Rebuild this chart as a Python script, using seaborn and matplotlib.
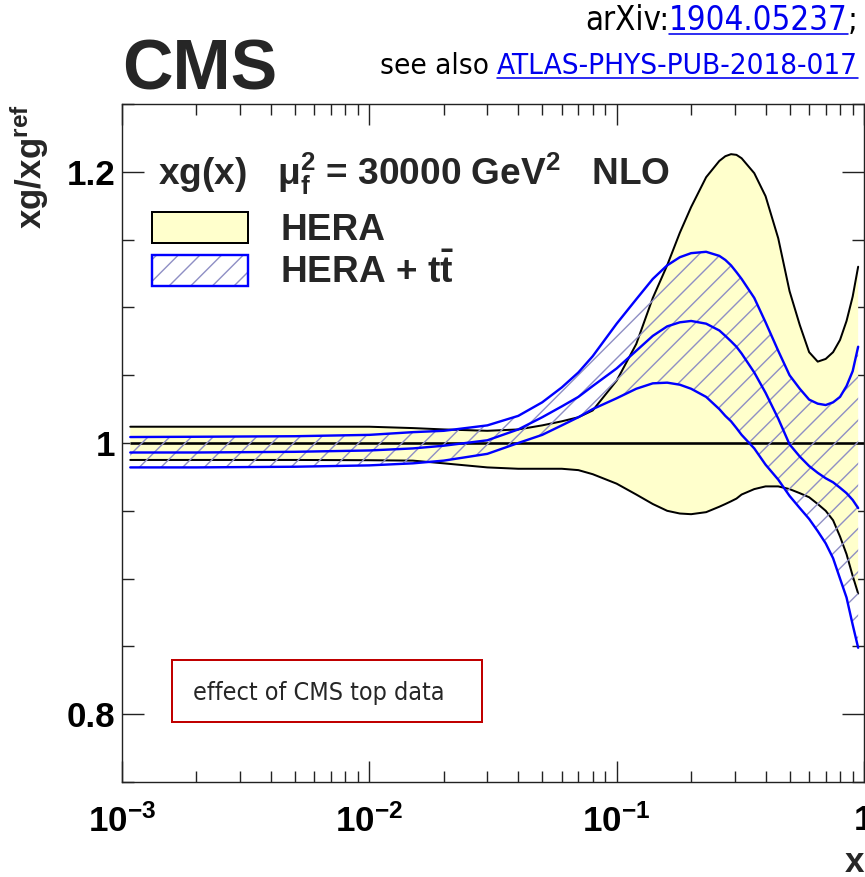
import numpy as np
import pandas as pd
import matplotlib
matplotlib.use("Agg")
import matplotlib.pyplot as plt
import seaborn as sns
from matplotlib import font_manager as fm
from matplotlib.patches import Patch, Rectangle
from matplotlib.lines import Line2D
from matplotlib.ticker import FixedLocator, FixedFormatter, MultipleLocator, LogLocator, NullFormatter
from matplotlib.legend_handler import HandlerTuple

# ---------------- data ----------------
x_vals = [0.00108, 0.002, 0.005, 0.01, 0.015, 0.02, 0.03, 0.04, 0.05, 0.06, 0.07, 0.08,
          0.1, 0.12, 0.14, 0.16, 0.18, 0.2, 0.23, 0.26, 0.275, 0.29, 0.305, 0.32, 0.36, 0.4, 0.45,
          0.5, 0.55, 0.6, 0.65, 0.7, 0.75, 0.8, 0.85, 0.9, 0.947]
hera_up = [1.012, 1.012, 1.012, 1.012, 1.011, 1.010, 1.009, 1.010, 1.013, 1.016, 1.019, 1.024,
           1.046, 1.073, 1.107, 1.131, 1.155, 1.174, 1.196, 1.208, 1.2115, 1.213, 1.2125, 1.210,
           1.199, 1.182, 1.151,
           1.112, 1.087, 1.067, 1.060, 1.062, 1.067, 1.076, 1.090, 1.108, 1.130]
hera_dn = [0.9875, 0.9875, 0.9875, 0.9873, 0.987, 0.985, 0.982, 0.981, 0.981, 0.981, 0.980, 0.977,
           0.970, 0.962, 0.955, 0.950, 0.948, 0.9475, 0.949, 0.953, 0.955, 0.957, 0.959, 0.962,
           0.966, 0.968, 0.968,
           0.966, 0.963, 0.960, 0.955, 0.950, 0.943, 0.931, 0.918, 0.902, 0.889]
tt_up = [1.0044, 1.0046, 1.005, 1.006, 1.008, 1.009, 1.013, 1.020, 1.030, 1.041, 1.052, 1.064,
         1.088, 1.106, 1.121, 1.131, 1.137, 1.140, 1.141, 1.138, 1.135, 1.131, 1.126, 1.121,
         1.107, 1.089, 1.068,
         1.050, 1.040, 1.032, 1.029, 1.028, 1.030, 1.034, 1.042, 1.053, 1.071]
tt_mid = [0.993, 0.993, 0.9935, 0.9945, 0.996, 0.998, 1.002, 1.010, 1.019, 1.027, 1.034, 1.042,
          1.055, 1.068, 1.079, 1.086, 1.089, 1.090, 1.088, 1.083, 1.079, 1.075, 1.071, 1.066,
          1.052, 1.037, 1.018,
          0.999, 0.990, 0.983, 0.978, 0.974, 0.971, 0.967, 0.963, 0.958, 0.952]
tt_dn = [0.982, 0.982, 0.9825, 0.9835, 0.985, 0.987, 0.992, 1.000, 1.006, 1.013, 1.019, 1.025,
         1.033, 1.040, 1.044, 1.0445, 1.043, 1.040, 1.034, 1.025, 1.020, 1.016, 1.011, 1.006,
         0.996, 0.984, 0.973,
         0.961, 0.952, 0.944, 0.935, 0.926, 0.915, 0.900, 0.886, 0.866, 0.849]
ref_value = 1.0

ytick_values = [0.8, 1.0, 1.2]
ytick_labels = ["0.8", "1", "1.2"]
xtick_values = [1e-3, 1e-2, 1e-1, 1.0]
xtick_labels = [r"$\mathbf{10^{-3}}$", r"$\mathbf{10^{-2}}$", r"$\mathbf{10^{-1}}$", "1"]
legend_labels = ["HERA", r"HERA + t$\mathbf{\bar{t}}$"]
header_text = r"xg(x)   $\mathrm{\mu}_{\mathbf{f}}^{\mathbf{2}}$ = 30000 GeV$^{\mathbf{2}}$   NLO"
ylabel_text = r"xg/xg$^{\mathbf{ref}}$"
xlabel_text = "x"
note_text = "effect of CMS top data"
experiment = "CMS"
ref_line1 = [("arXiv:", "black", False), ("1904.05237", "#0000ee", True), (";", "black", False)]
ref_line2 = [("see also ", "black", False), ("ATLAS-PHYS-PUB-2018-017", "#0000ee", True)]

# ---------------- style ----------------
DPI = 130
W, H = 865, 877
P = 72.0 / DPI  # px -> pt

sns.set_theme(style="ticks")


def find_narrow():
    prefs = ["Liberation Sans Narrow", "DejaVu Sans Condensed"]
    for name in prefs:
        try:
            return fm.FontProperties(fname=fm.findfont(fm.FontProperties(family=name),
                                                       fallback_to_default=False))
        except Exception:
            pass
    for f in fm.fontManager.ttflist:
        base = f.fname.split("/")[-1]
        if (("Narrow" in base or "Condensed" in base) and "Bold" not in base
                and "Oblique" not in base and "Italic" not in base and "Sans" in base):
            return fm.FontProperties(fname=f.fname)
    return fm.FontProperties(family="Liberation Sans", weight="normal")


NARROW = find_narrow()

plt.rcParams["font.family"] = ["Liberation Sans", "DejaVu Sans"]
plt.rcParams["font.weight"] = "bold"
plt.rcParams["mathtext.fontset"] = "custom"
plt.rcParams["mathtext.rm"] = "Liberation Sans"
plt.rcParams["mathtext.it"] = "Liberation Sans:italic"
plt.rcParams["mathtext.bf"] = "Liberation Sans:bold"
plt.rcParams["mathtext.sf"] = "Liberation Sans"
plt.rcParams["hatch.linewidth"] = 1.4 * P

YELLOW = "#ffffcc"
HATCH = "#8f8fc4"
BLUE = "#0000ff"
AXC = "#222222"
FS = 37  # px, header / legend

fig = plt.figure(figsize=(W / DPI, H / DPI), dpi=DPI)
fig.patch.set_facecolor("white")
ax = fig.add_axes([122 / W, 1 - 782 / H, (864 - 122) / W, (782 - 104) / H])
ax.set_facecolor("white")

df = pd.DataFrame({"x": x_vals, "hera_up": hera_up, "hera_dn": hera_dn,
                   "tt_up": tt_up, "tt_mid": tt_mid, "tt_dn": tt_dn})

# HERA band
ax.fill_between(df["x"], df["hera_dn"], df["hera_up"], facecolor=YELLOW, edgecolor="none", zorder=1)
for col in ["hera_up", "hera_dn"]:
    sns.lineplot(data=df, x="x", y=col, ax=ax, color="black", linewidth=2.0 * P,
                 estimator=None, sort=False, legend=False, zorder=2)
ax.hlines(ref_value, x_vals[0], xtick_values[-1], color="black", linewidth=2.6 * P, zorder=2)

# HERA + ttbar band
ax.fill_between(df["x"], df["tt_dn"], df["tt_up"], facecolor="none", edgecolor=HATCH,
                linewidth=0, hatch="//", zorder=3)
for col in ["tt_up", "tt_mid", "tt_dn"]:
    sns.lineplot(data=df, x="x", y=col, ax=ax, color=BLUE, linewidth=2.4 * P,
                 estimator=None, sort=False, legend=False, zorder=4)

# axes
ax.set_xscale("log")
ax.set_xlim(1e-3, 1.0)
ax.set_ylim(0.75, 1.25)
ax.xaxis.set_major_locator(FixedLocator(xtick_values))
ax.xaxis.set_major_formatter(FixedFormatter(xtick_labels))
ax.xaxis.set_minor_locator(LogLocator(base=10, subs=np.arange(2, 10), numticks=20))
ax.xaxis.set_minor_formatter(NullFormatter())
ax.yaxis.set_major_locator(FixedLocator(ytick_values))
ax.yaxis.set_major_formatter(FixedFormatter(ytick_labels))
ax.yaxis.set_minor_locator(MultipleLocator(0.05))

for s in ax.spines.values():
    s.set_visible(True)
    s.set_color(AXC)
    s.set_linewidth(1.4 * P)

ax.tick_params(axis="both", which="both", direction="in", top=True, bottom=True,
               left=True, right=True, color=AXC, width=1.4 * P, labelcolor="black")
ax.tick_params(axis="y", which="major", length=22 * P, pad=7 * P, labelsize=35 * P)
ax.tick_params(axis="y", which="minor", length=12 * P)
ax.tick_params(axis="x", which="major", length=21 * P, pad=22 * P, labelsize=35 * P)
ax.tick_params(axis="x", which="minor", length=11 * P)
for lab in ax.get_xticklabels() + ax.get_yticklabels():
    lab.set_fontweight("bold")

ax.set_xlabel(xlabel_text, fontsize=35 * P, fontweight="bold", ha="right", va="top")
ax.xaxis.set_label_coords(1.0, -0.094)
ax.set_ylabel(ylabel_text, fontsize=35 * P, fontweight="bold", loc="top")
ax.yaxis.set_label_coords(-0.096, 1.0)

# header + legend
ax.text(0.0486, 0.8805, header_text, transform=ax.transAxes, ha="left", va="baseline",
        fontsize=FS * P, fontweight="bold", zorder=6)
h_hera = Patch(facecolor=YELLOW, edgecolor="black", linewidth=2.0 * P)
h_tt = (Patch(facecolor="white", edgecolor=HATCH, hatch="//", linewidth=0),
        Patch(facecolor="none", edgecolor=BLUE, linewidth=2.4 * P))
leg = ax.legend([h_hera, h_tt], legend_labels, loc="upper left", bbox_to_anchor=(0.0405, 0.8407),
                frameon=False, borderpad=0, borderaxespad=0, handlelength=96 / FS,
                handleheight=33 / FS, handletextpad=32 / FS, labelspacing=0.16,
                prop={"family": "Liberation Sans", "weight": "bold", "size": FS * P},
                handler_map={tuple: HandlerTuple(ndivide=1, pad=0)})

# note box
ax.add_patch(Rectangle((0.0674, 0.0885), 0.4181, 0.0915, transform=ax.transAxes, fill=False,
                       edgecolor="#c00000", linewidth=2.0 * P, zorder=6))

fig.canvas.draw()
renderer = fig.canvas.get_renderer()


def fitted_size(text, prop, target_px, base_px):
    t = fig.text(0, 0, text, fontproperties=prop, fontsize=base_px * P)
    w = t.get_window_extent(renderer=renderer).width
    t.remove()
    return base_px * target_px / w


note_px = min(30, fitted_size(note_text, NARROW, 252, 30))
ax.text(0.0958, 0.131, note_text, transform=ax.transAxes, ha="left", va="center",
        fontproperties=NARROW, fontsize=note_px * P, zorder=6)

# CMS label
fig.text(122 / W, 1 - 90 / H, experiment, ha="left", va="baseline", fontsize=70 * P,
         fontweight="bold")


def place_right(pieces, x_right, y_base, target_w, base_px, ul_off):
    full = "".join(p[0] for p in pieces)
    size_px = min(base_px, fitted_size(full, NARROW, target_w, base_px))
    x = x_right
    for txt, color, underline in reversed(pieces):
        t = fig.text(x / W, 1 - y_base / H, txt, ha="right", va="baseline", color=color,
                     fontproperties=NARROW, fontsize=size_px * P)
        bb = t.get_window_extent(renderer=renderer)
        if underline:
            yy = 1 - (y_base + ul_off) / H
            fig.add_artist(Line2D([bb.x0 / W, bb.x1 / W], [yy, yy], color=color,
                                  linewidth=1.6 * P, transform=fig.transFigure))
        x = bb.x0


place_right(ref_line1, 858, 30, 273, 40, 4)
place_right(ref_line2, 858, 74, 478, 34, 4)

fig.savefig("out.png", dpi=DPI, facecolor="white")
